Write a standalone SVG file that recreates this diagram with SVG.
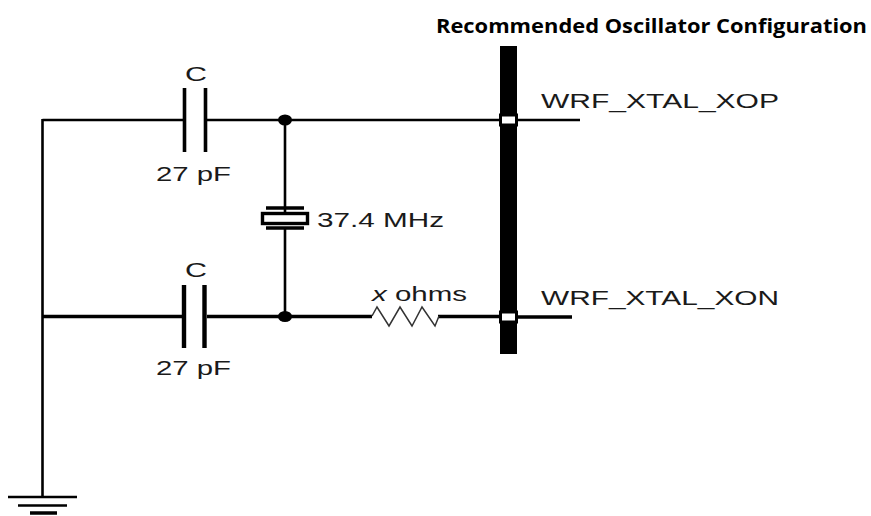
<svg xmlns="http://www.w3.org/2000/svg" width="871" height="516" viewBox="0 0 871 516">
<style>
.w{fill:none;stroke:#000;stroke-width:2.600}
.b{fill:none;stroke:#000;stroke-width:3.400}
.t{font-family:"Liberation Sans",Arial,sans-serif;font-size:21px;fill:#1a1a1a}
.h{font-family:"Open Sans","Noto Sans",sans-serif;font-weight:700;font-size:20px;fill:#000}
.cap{fill:none;stroke:#000;stroke-width:3.600}
.capb{fill:none;stroke:#000;stroke-width:4.400}
.pin{fill:#fff;stroke:#000;stroke-width:3}
</style>
<rect width="871" height="516" fill="#fff"/>
<text class="h" x="436" y="33" textLength="431" lengthAdjust="spacingAndGlyphs">Recommended Oscillator Configuration</text>
<g id="connectors">
<path class="w" d="M42.500 120H183M207 120H507M515 120H580"/>
<path class="w" d="M42.500 119V497"/>
<path class="b" d="M42 316.500H182M207 316.500H372M438 316.500H500M515 317H572"/>
<path class="w" d="M285 120V212M285 228V316"/>
</g>
<g id="cap-top">
<path class="cap" d="M184.500 88V152M205.500 88V152"/>
<text class="t" x="185" y="81" textLength="22" lengthAdjust="spacingAndGlyphs">C</text>
<text class="t" x="156" y="181" textLength="75" lengthAdjust="spacingAndGlyphs">27 pF</text>
</g>
<g id="cap-bottom">
<path class="capb" d="M184 285V348M204.500 285V348"/>
<text class="t" x="185" y="277" textLength="22" lengthAdjust="spacingAndGlyphs">C</text>
<text class="t" x="156" y="375" textLength="75" lengthAdjust="spacingAndGlyphs">27 pF</text>
</g>
<g id="crystal">
<path class="b" d="M266 208H304M266 228H304"/>
<rect x="262.500" y="213.500" width="45" height="10" fill="#fff" stroke="#000" stroke-width="3.400"/>
<text class="t" x="317" y="227" textLength="127" lengthAdjust="spacingAndGlyphs">37.4 MHz</text>
</g>
<g id="junctions">
<ellipse cx="285" cy="120" rx="7" ry="5.500" fill="#000"/>
<ellipse cx="285" cy="316.500" rx="7" ry="5.500" fill="#000"/>
</g>
<g id="resistor">
<path d="M372 316L377 307L389 326L400 307L412 326L422 307L435 326L439 316" fill="none" stroke="#333" stroke-width="1.500"/>
<text class="t" x="372" y="301" textLength="95" lengthAdjust="spacingAndGlyphs"><tspan font-style="italic">x</tspan> ohms</text>
</g>
<g id="bus">
<rect x="500" y="46" width="17" height="308" fill="#000"/>
<rect class="pin" x="500.500" y="115" width="16" height="10"/>
<rect class="pin" x="500.500" y="312" width="16" height="10"/>
</g>
<g id="xop"><text class="t" x="541" y="108" textLength="238" lengthAdjust="spacingAndGlyphs">WRF_XTAL_XOP</text></g>
<g id="xon"><text class="t" x="541" y="305" textLength="238" lengthAdjust="spacingAndGlyphs">WRF_XTAL_XON</text></g>
<g id="ground">
<path class="w" d="M8 497H77M18 505.500H67"/>
<path d="M30 513H57" stroke="#000" stroke-width="3.500"/>
</g>
</svg>
